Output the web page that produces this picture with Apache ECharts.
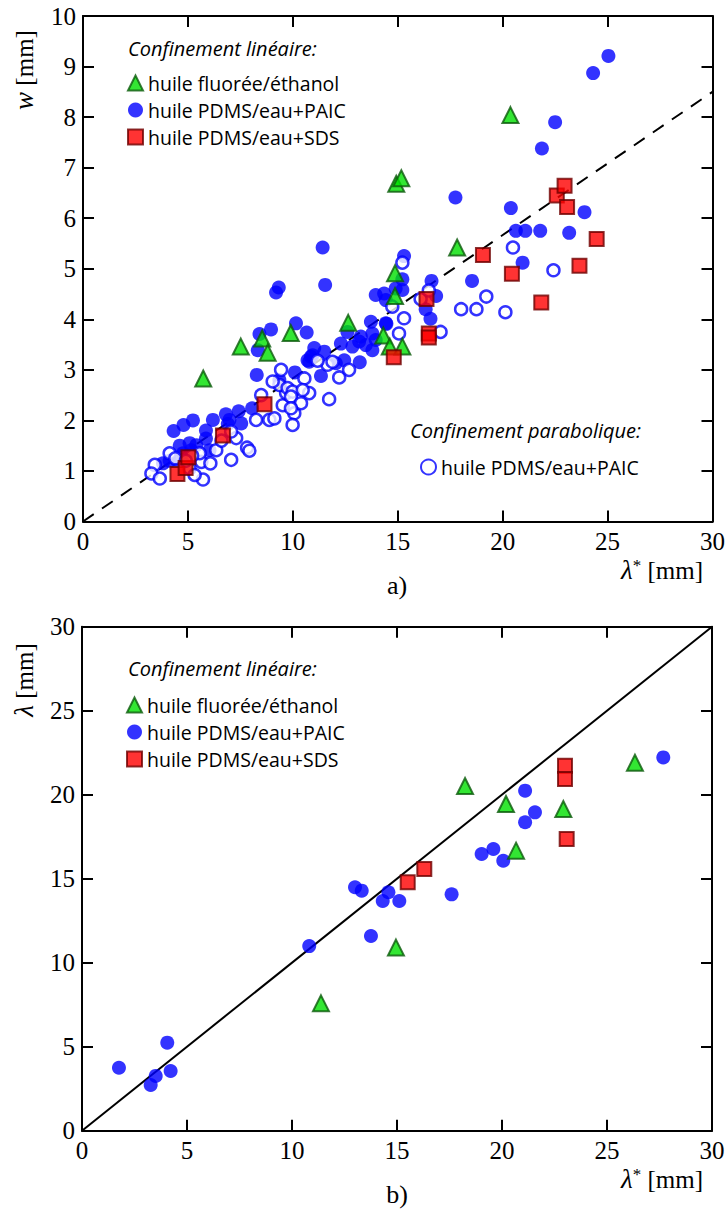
<!DOCTYPE html>
<html>
<head>
<meta charset="utf-8">
<script src="https://cdn.jsdelivr.net/npm/echarts@6/dist/echarts.min.js"></script>
<style>
html,body{margin:0;padding:0;background:#fff;}
#chart{width:728px;height:1210px;}
</style>
</head>
<body>
<div id="chart"></div>
<script>
// ---------- data: panel a) w vs lambda* ----------
const aTriangles = [[5.73,2.83],[7.52,3.46],[8.54,3.62],[8.80,3.34],[9.90,3.73],[12.64,3.93],[14.31,3.68],[14.62,3.46],[15.22,3.46],[14.87,4.91],[14.87,4.46],[14.93,6.68],[15.17,6.79],[17.83,5.42],[20.37,8.04]];
const aSquares = [[4.50,0.94],[4.89,1.06],[5.02,1.27],[6.67,1.70],[8.65,2.32],[14.81,3.25],[16.37,4.40],[16.48,3.72],[16.48,3.64],[19.06,5.27],[20.44,4.90],[21.84,4.33],[22.58,6.45],[22.95,6.64],[23.07,6.22],[23.66,5.06],[24.48,5.59]];
const aCircles = [[25.04,9.21],[24.31,8.87],[22.50,7.90],[21.87,7.38],[17.75,6.41],[20.39,6.20],[23.90,6.12],[20.63,5.75],[21.08,5.75],[21.79,5.75],[23.17,5.71],[20.95,5.12],[18.54,4.76],[16.61,4.76],[15.30,5.25],[16.83,4.46],[16.33,4.20],[16.56,4.01],[14.46,3.91],[14.35,4.51],[15.22,4.58],[15.22,4.79],[11.42,5.42],[11.54,4.68],[9.33,4.63],[9.20,4.53],[13.95,4.48],[14.43,4.38],[14.90,4.61],[13.72,3.95],[13.79,3.72],[13.95,3.59],[13.16,3.56],[13.48,3.49],[13.79,3.39],[13.19,3.15],[12.60,3.75],[12.29,3.52],[12.45,3.19],[12.05,3.13],[12.84,3.46],[13.24,3.66],[14.43,3.92],[11.34,2.88],[11.02,3.43],[11.50,3.36],[10.70,3.19],[10.86,3.26],[10.78,3.16],[10.15,3.92],[10.66,3.74],[8.96,3.80],[8.41,3.71],[8.33,3.39],[8.28,2.90],[10.10,2.95],[9.36,2.80],[10.94,3.29],[8.06,2.24],[7.42,2.18],[6.81,2.12],[6.19,2.01],[5.24,2.00],[4.79,1.91],[4.32,1.79],[6.90,1.93],[7.54,1.94],[6.98,2.01],[5.86,1.80],[5.86,1.64],[4.61,1.50],[5.08,1.55],[5.16,1.41],[4.77,1.35],[4.45,1.22],[4.13,1.20],[3.81,1.15],[6.03,1.41],[5.40,1.51]];
const aOpen = [[3.42,1.12],[3.26,0.95],[3.66,0.85],[4.13,1.35],[4.40,1.25],[5.72,0.83],[5.64,1.18],[6.07,1.15],[5.56,1.35],[6.35,1.41],[7.06,1.22],[7.30,1.65],[7.82,1.46],[7.93,1.40],[8.25,2.01],[8.88,2.01],[9.12,2.04],[9.52,2.30],[9.68,2.54],[9.36,2.70],[7.06,1.78],[5.08,1.05],[5.32,0.92],[9.44,3.00],[9.04,2.77],[9.75,2.64],[9.99,2.57],[9.91,2.47],[10.07,2.14],[10.39,2.34],[10.55,2.83],[10.78,2.54],[10.47,2.60],[11.73,2.42],[12.21,2.85],[12.68,3.00],[11.65,3.10],[11.89,3.16],[11.18,3.18],[9.91,2.24],[9.99,1.91],[15.06,3.72],[15.30,4.02],[20.49,5.42],[22.42,4.97],[19.22,4.45],[18.75,4.20],[18.02,4.20],[20.13,4.14],[17.04,3.75],[15.22,5.12],[16.09,4.40],[16.48,4.57],[14.74,4.25],[8.49,2.50],[5.20,1.30],[4.90,1.20],[6.60,1.60]];
const aFit = [[0,0],[30,8.5]];

// ---------- data: panel b) lambda vs lambda* ----------
const bTriangles = [[11.38,7.58],[14.95,10.90],[18.24,20.52],[20.19,19.45],[20.67,16.67],[22.92,19.15],[26.33,21.90]];
const bCircles = [[1.76,3.75],[3.27,2.72],[3.51,3.26],[4.06,5.24],[4.22,3.55],[10.82,10.99],[13.00,14.49],[13.32,14.29],[13.76,11.59],[14.32,13.67],[14.59,14.19],[15.11,13.67],[17.60,14.07],[19.03,16.47],[19.59,16.77],[20.06,16.07],[21.10,20.24],[21.57,18.95],[21.10,18.36],[27.68,22.22]];
const bSquares = [[15.51,14.79],[16.30,15.58],[23.00,21.73],[23.00,20.93],[23.08,17.36]];
const bDiag = [[0,0],[30,30]];

const axisMax = 30, xStep = 5;
const aYMax = 10, aYStep = 1;
const bYMax = 30, bYStep = 5;

const nameTri = 'huile fluorée/éthanol';
const nameCirc = 'huile PDMS/eau+PAIC';
const nameSq = 'huile PDMS/eau+SDS';
const nameOpen = 'huile PDMS/eau+PAIC (parabolique)';

const SERIF = 'Liberation Serif';
const SANS = 'Open Sans';

function axis(grid, pos, max, step, labels) {
  return {
    type: 'value', gridIndex: grid, position: pos, min: 0, max: max, interval: step,
    axisLine: { show: true, onZero: false, lineStyle: { color: '#000', width: 2 } },
    axisTick: { show: true, inside: true, length: 11, lineStyle: { color: '#000', width: 2 } },
    axisLabel: {
      show: labels, margin: 7,
      formatter: function (v) { return '{t|' + v + '}'; },
      rich: { t: { fontFamily: SERIF, fontSize: 25, color: '#000' } },
      fontFamily: SERIF, fontSize: 25, color: '#000'
    },
    splitLine: { show: false }
  };
}

const triStyle = { color: '#00e000', borderColor: '#0b5a0b', borderWidth: 2 };
const sqStyle = { color: '#ff0000', borderColor: '#6e0000', borderWidth: 2 };
const circStyle = { color: '#0000ff' };
const openStyle = { color: '#ffffff', borderColor: '#0000ff', borderWidth: 2.5 };

const richSerif = {
  i: { fontFamily: SERIF, fontStyle: 'italic', fontSize: 27, color: '#000' },
  s: { fontFamily: SERIF, fontSize: 17, color: '#000', verticalAlign: 'top' },
  r: { fontFamily: SERIF, fontSize: 25, color: '#000' }
};

const legendText = { fontFamily: SANS, fontSize: 19.5, color: '#000' };

const chart = echarts.init(document.getElementById('chart'), null, { renderer: 'svg' });
chart.setOption({
  animation: false,
  backgroundColor: '#fff',
  textStyle: { fontFamily: SERIF },
  grid: [
    { left: 83, top: 16, width: 631, height: 505.5 },
    { left: 82, top: 626.7, width: 630, height: 504 }
  ],
  xAxis: [
    axis(0, 'bottom', axisMax, xStep, true),
    axis(0, 'top', axisMax, xStep, false),
    axis(1, 'bottom', axisMax, xStep, true),
    axis(1, 'top', axisMax, xStep, false)
  ],
  yAxis: [
    axis(0, 'left', aYMax, aYStep, true),
    axis(0, 'right', aYMax, aYStep, false),
    axis(1, 'left', bYMax, bYStep, true),
    axis(1, 'right', bYMax, bYStep, false)
  ],
  legend: [
    { data: [nameTri, nameCirc, nameSq], orient: 'vertical', left: 122, top: 68, itemWidth: 15, itemHeight: 15, itemGap: 7,
      selectedMode: false, textStyle: legendText },
    { data: [nameOpen], orient: 'vertical', left: 415, top: 452, itemWidth: 15, itemHeight: 15,
      selectedMode: false, formatter: function () { return nameCirc; }, textStyle: legendText },
    { data: [nameTri, nameCirc, nameSq], orient: 'vertical', left: 121, top: 690, itemWidth: 15, itemHeight: 15, itemGap: 7,
      selectedMode: false, textStyle: legendText }
  ],
  series: [
    { type: 'line', xAxisIndex: 0, yAxisIndex: 0, data: aFit, showSymbol: false, symbol: 'none', silent: true,
      lineStyle: { color: '#000', width: 2, type: [13, 10] }, z: 1 },
    { type: 'scatter', name: nameCirc, xAxisIndex: 0, yAxisIndex: 0, data: aCircles, symbol: 'circle', symbolSize: 14, itemStyle: circStyle, z: 2 },
    { type: 'scatter', name: nameOpen, xAxisIndex: 0, yAxisIndex: 0, data: aOpen, symbol: 'circle', symbolSize: 12, itemStyle: openStyle, z: 3 },
    { type: 'scatter', name: nameTri, xAxisIndex: 0, yAxisIndex: 0, data: aTriangles, symbol: 'triangle', symbolSize: 16, itemStyle: triStyle, z: 4 },
    { type: 'scatter', name: nameSq, xAxisIndex: 0, yAxisIndex: 0, data: aSquares, symbol: 'rect', symbolSize: 14, itemStyle: sqStyle, z: 5 },

    { type: 'line', xAxisIndex: 2, yAxisIndex: 2, data: bDiag, showSymbol: false, symbol: 'none', silent: true,
      lineStyle: { color: '#000', width: 2 }, z: 1 },
    { type: 'scatter', name: nameCirc, xAxisIndex: 2, yAxisIndex: 2, data: bCircles, symbol: 'circle', symbolSize: 14, itemStyle: circStyle, z: 2 },
    { type: 'scatter', name: nameTri, xAxisIndex: 2, yAxisIndex: 2, data: bTriangles, symbol: 'triangle', symbolSize: 16, itemStyle: triStyle, z: 4 },
    { type: 'scatter', name: nameSq, xAxisIndex: 2, yAxisIndex: 2, data: bSquares, symbol: 'rect', symbolSize: 14, itemStyle: sqStyle, z: 5 }
  ],
  graphic: [
    { type: 'text', x: 128, y: 48, style: { text: 'Confinement linéaire:', fontFamily: SANS, fontStyle: 'italic', fontSize: 20, fill: '#000', align: 'left', verticalAlign: 'middle' } },
    { type: 'text', x: 410, y: 430, style: { text: 'Confinement parabolique:', fontFamily: SANS, fontStyle: 'italic', fontSize: 20, fill: '#000', align: 'left', verticalAlign: 'middle' } },
    { type: 'text', x: 128, y: 668, style: { text: 'Confinement linéaire:', fontFamily: SANS, fontStyle: 'italic', fontSize: 20, fill: '#000', align: 'left', verticalAlign: 'middle' } },

    { type: 'text', x: 24, y: 70, rotation: Math.PI / 2,
      style: { text: '{i|w}{r| [mm]}', rich: richSerif, fontFamily: SERIF, fontSize: 25, fill: '#000', align: 'center', verticalAlign: 'middle' } },
    { type: 'text', x: 662, y: 570,
      style: { text: '{i|λ}{s|*}{r| [mm]}', rich: richSerif, fontFamily: SERIF, fontSize: 25, fill: '#000', align: 'center', verticalAlign: 'middle' } },
    { type: 'text', x: 397, y: 585, style: { text: 'a)', fontFamily: SERIF, fontSize: 26, fill: '#000', align: 'center', verticalAlign: 'middle' } },

    { type: 'text', x: 24, y: 680, rotation: Math.PI / 2,
      style: { text: '{i|λ}{r| [mm]}', rich: richSerif, fontFamily: SERIF, fontSize: 25, fill: '#000', align: 'center', verticalAlign: 'middle' } },
    { type: 'text', x: 662, y: 1179,
      style: { text: '{i|λ}{s|*}{r| [mm]}', rich: richSerif, fontFamily: SERIF, fontSize: 25, fill: '#000', align: 'center', verticalAlign: 'middle' } },
    { type: 'text', x: 397, y: 1194, style: { text: 'b)', fontFamily: SERIF, fontSize: 26, fill: '#000', align: 'center', verticalAlign: 'middle' } }
  ]
});
</script>
</body>
</html>
